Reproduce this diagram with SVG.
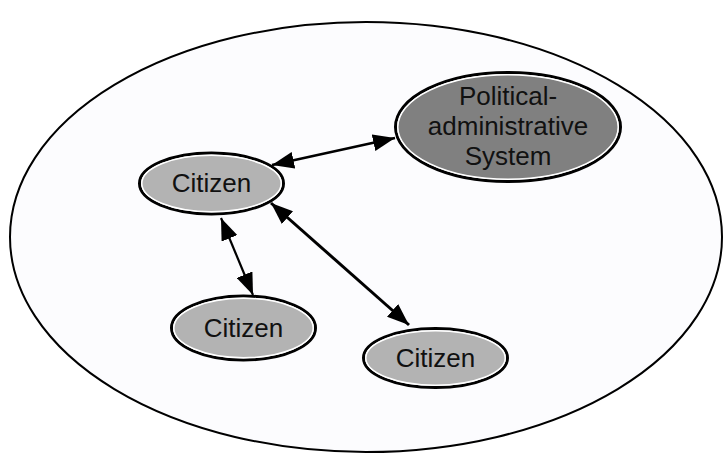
<svg xmlns="http://www.w3.org/2000/svg" width="724" height="456" viewBox="0 0 724 456">
<style>
.outer{fill:#fcfcfe;stroke:#000;stroke-width:2}
.rim{fill:none;stroke:#000;stroke-width:3}
.cit{fill:#b3b3b3;stroke:#fff;stroke-width:1.5}
.pol{fill:#808080;stroke:#fff;stroke-width:1.5}
.lbl{font-family:"Liberation Sans",Arial,sans-serif;font-size:26px;fill:#111;text-anchor:middle}
.edge{stroke:#000;fill:none;marker-start:url(#ah);marker-end:url(#ah)}
</style>
<defs>
<marker id="ah" markerUnits="userSpaceOnUse" viewBox="0 0 22 17" markerWidth="22" markerHeight="17" refX="22" refY="8.5" orient="auto-start-reverse">
<path d="M0,0 L22,8.5 L0,17 z" fill="#000"/>
</marker>
</defs>
<rect width="724" height="456" fill="#fff"/>
<ellipse class="outer" cx="366" cy="237" rx="356" ry="215"/>
<g id="connectors">
<line class="edge" x1="272" y1="165" x2="395" y2="138" style="stroke-width:2.5"/>
<line class="edge" x1="221" y1="218" x2="253" y2="295" style="stroke-width:2.2"/>
<line class="edge" x1="271" y1="203" x2="409" y2="325" style="stroke-width:3"/>
</g>
<g id="political">
<ellipse class="rim" cx="508" cy="127" rx="112.5" ry="54.5"/>
<ellipse class="pol" cx="508" cy="127" rx="110.2" ry="52.2"/>
<text class="lbl" x="508" y="105">Political-</text>
<text class="lbl" x="508" y="135">administrative</text>
<text class="lbl" x="508" y="165">System</text>
</g>
<g id="citizen1">
<ellipse class="rim" cx="211.5" cy="183.5" rx="72" ry="30.5"/>
<ellipse class="cit" cx="211.5" cy="183.5" rx="69.7" ry="28.2"/>
<text class="lbl" x="211.5" y="192">Citizen</text>
</g>
<g id="citizen2">
<ellipse class="rim" cx="243.5" cy="328" rx="72" ry="32"/>
<ellipse class="cit" cx="243.5" cy="328" rx="69.7" ry="29.7"/>
<text class="lbl" x="243.5" y="337">Citizen</text>
</g>
<g id="citizen3">
<ellipse class="rim" cx="435.5" cy="358" rx="72" ry="29.5"/>
<ellipse class="cit" cx="435.5" cy="358" rx="69.7" ry="27.2"/>
<text class="lbl" x="435.5" y="367">Citizen</text>
</g>
</svg>
